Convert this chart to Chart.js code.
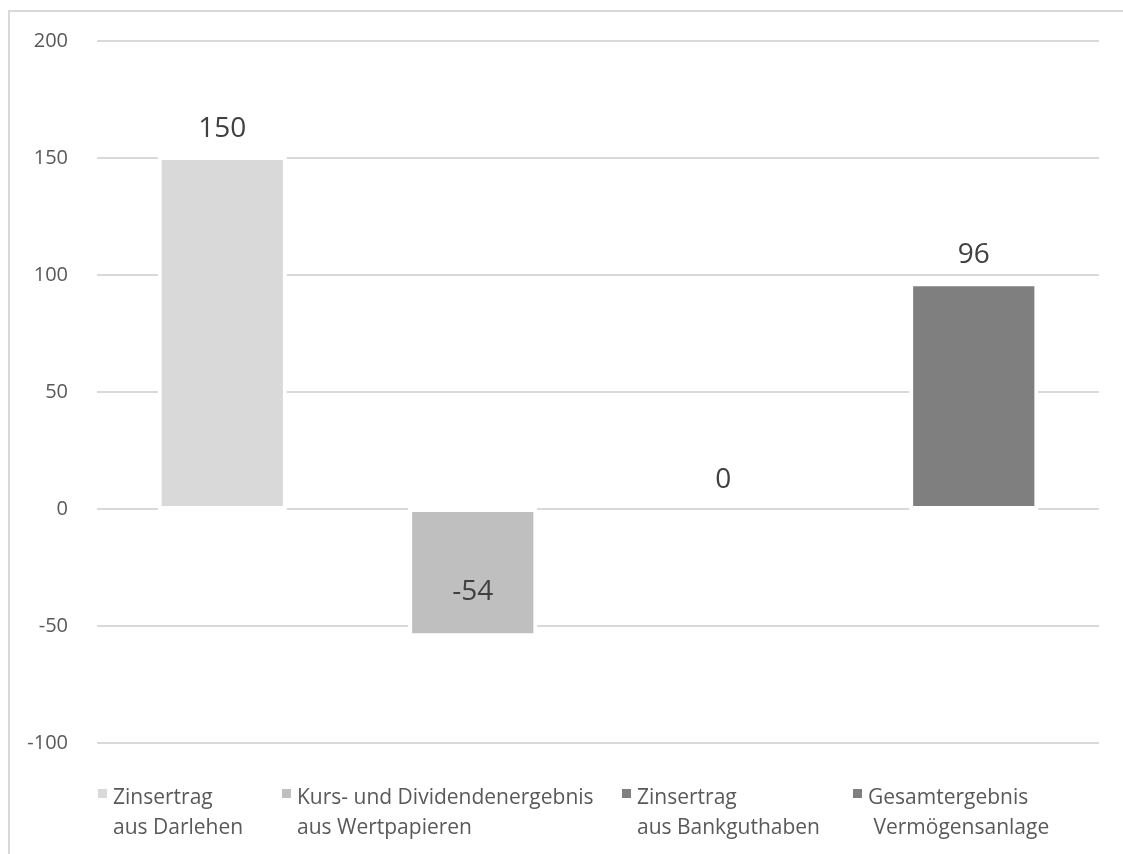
<!DOCTYPE html>
<html>
<head>
<meta charset="utf-8">
<script src="https://cdn.jsdelivr.net/npm/chart.js@4/dist/chart.umd.min.js"></script>
<style>
    html, body { margin: 0; padding: 0; background: #fff; }
    #wrap { position: relative; width: 1123px; height: 854px; overflow: hidden; }
    #frame {
        position: absolute; left: 8px; top: 10px; width: 1130px; height: 860px;
        border-left: 2px solid #d9d9d9; border-top: 2px solid #d9d9d9;
        box-sizing: border-box;
    }
    canvas { position: absolute; left: 0; top: 0; }
</style>
</head>
<body>
<div id="wrap">
    <div id="frame"></div>
    <canvas id="chart" width="1123" height="854"></canvas>
</div>
<script>
// Chart data
const categories = ['Zinsertrag aus Darlehen', 'Kurs- und Dividendenergebnis aus Wertpapieren', 'Zinsertrag aus Bankguthaben', 'Gesamtergebnis Vermögensanlage'];
const values = [150, -54, 0, 96];
const barColors = ['#d9d9d9', '#bfbfbf', '#7f7f7f', '#7f7f7f'];
const legendLines = [
    ['Zinsertrag', 'aus Darlehen'],
    ['Kurs- und Dividendenergebnis', 'aus Wertpapieren'],
    ['Zinsertrag', 'aus Bankguthaben'],
    ['Gesamtergebnis', ' Vermögensanlage']
];
const yMin = -100, yMax = 200, yStep = 50;

// Layout
const FONT = '"Open Sans", "Noto Sans", sans-serif';
const legendX = [98, 282, 622, 853];
const legendY = 798;

// Value labels above / inside the bars
const valueLabels = {
    id: 'valueLabels',
    afterDatasetsDraw(chart) {
        const ctx = chart.ctx;
        const meta = chart.getDatasetMeta(0);
        const y = chart.scales.y;
        ctx.save();
        ctx.font = '28px ' + FONT;
        ctx.fillStyle = '#404040';
        ctx.textAlign = 'center';
        ctx.textBaseline = 'middle';
        meta.data.forEach((bar, i) => {
            const v = values[i];
            let ty;
            if (v >= 0) {
                ty = y.getPixelForValue(v) - 29;
            } else {
                ty = y.getPixelForValue(v) - 43;
            }
            ctx.fillText(String(v), bar.x, ty);
        });
        ctx.restore();
    }
};

// Two-line legend at the bottom
const bottomLegend = {
    id: 'bottomLegend',
    afterDraw(chart) {
        const ctx = chart.ctx;
        ctx.save();
        ctx.font = '21px ' + FONT;
        ctx.textBaseline = 'middle';
        ctx.textAlign = 'left';
        legendLines.forEach((lines, i) => {
            const x = legendX[i];
            ctx.fillStyle = barColors[i];
            ctx.fillRect(x, legendY - 9, 9, 9);
            ctx.fillStyle = '#595959';
            lines.forEach((line, j) => {
                ctx.fillText(line, x + 15, legendY + j * 30);
            });
        });
        ctx.restore();
    }
};

new Chart(document.getElementById('chart').getContext('2d'), {
    type: 'bar',
    data: {
        labels: categories,
        datasets: [{
            data: values,
            backgroundColor: barColors,
            borderColor: '#ffffff',
            borderWidth: ctx => values[ctx.dataIndex] === 0 ? 0 : 4,
            borderSkipped: false,
            inflateAmount: ctx => values[ctx.dataIndex] === 0 ? 0 : 2,
            barPercentage: 0.5,
            categoryPercentage: 1.0
        }]
    },
    options: {
        responsive: false,
        animation: false,
        layout: {
            padding: { left: 0, right: 24, top: 28, bottom: 111 }
        },
        plugins: {
            legend: { display: false },
            tooltip: { enabled: false }
        },
        scales: {
            x: {
                display: false
            },
            y: {
                min: yMin,
                max: yMax,
                border: { display: false },
                grid: {
                    color: '#d9d9d9',
                    lineWidth: 2,
                    drawTicks: false
                },
                ticks: {
                    stepSize: yStep,
                    padding: 29,
                    color: '#595959',
                    font: { family: FONT, size: 20 }
                },
                afterFit(scale) {
                    scale.width = 97;
                }
            }
        }
    },
    plugins: [valueLabels, bottomLegend]
});
</script>
</body>
</html>
